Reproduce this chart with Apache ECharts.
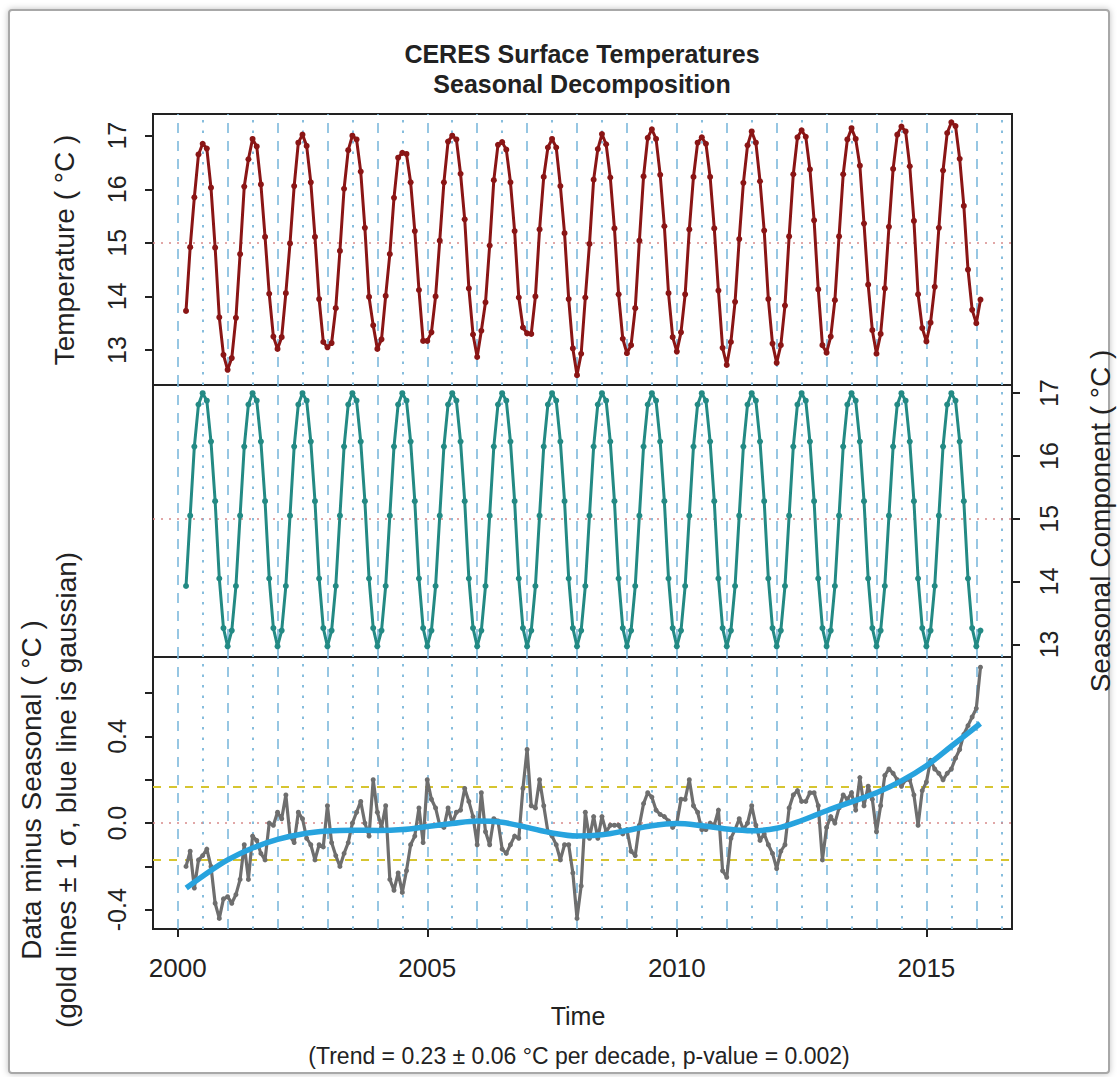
<!DOCTYPE html>
<html>
<head>
<meta charset="utf-8">
<script src="https://cdn.jsdelivr.net/npm/echarts@6/dist/echarts.min.js"></script>
<style>
html,body{margin:0;padding:0;background:#fff;}
#c{width:1120px;height:1077px;}
</style>
</head>
<body>
<div id="c"></div>
<script>
// ---- data (monthly, first value = March 2000) ----
var startYear = 2000;
var startMonth = 3;

// Temperature (°C), top panel
var temperature = [
 13.73,14.92,15.85,16.65,16.85,16.76,16.03,14.91,13.61,12.91,
 12.63,12.85,13.60,14.79,16.05,16.56,16.94,16.80,16.09,15.11,14.05,13.25,
 13.02,13.24,14.06,14.99,16.06,16.87,17.02,16.81,16.13,15.11,13.95,13.15,
 13.05,13.13,13.78,14.85,16.01,16.73,17.00,16.93,16.33,15.28,13.99,13.46,
 13.02,13.20,14.01,14.79,15.84,16.59,16.68,16.66,16.13,15.22,14.12,13.17,
 13.17,13.33,14.00,15.04,16.13,16.89,17.00,16.93,16.29,15.44,14.15,13.29,
 12.87,13.36,13.89,14.95,16.17,16.83,16.88,16.74,16.13,15.22,13.98,13.42,
 13.31,13.30,14.00,15.25,16.23,16.78,16.94,16.78,16.06,15.18,13.95,13.03,
 12.53,12.93,13.98,14.98,16.18,16.75,17.03,16.84,16.22,15.27,14.04,13.21,
 12.94,13.09,13.78,15.04,16.24,16.96,17.12,16.94,16.27,15.31,14.06,13.24,
 12.97,13.33,14.04,15.25,16.23,16.87,16.97,16.85,16.23,15.27,14.11,13.04,
 12.72,13.15,13.90,15.07,16.12,16.82,17.08,16.87,16.15,15.23,13.95,13.12,
 12.76,13.09,13.83,15.12,16.28,16.97,17.10,16.98,16.37,15.42,14.13,13.09,
 12.95,13.25,13.93,15.12,16.28,16.93,17.14,16.94,16.44,15.36,14.22,13.37,
 12.93,13.30,14.15,15.30,16.38,17.02,17.17,17.08,16.43,15.41,14.04,13.41,
 13.16,13.51,14.18,15.28,16.35,17.05,17.25,17.18,16.57,15.69,14.50,13.75,
 13.50,13.94
];

// Seasonal component cycle (°C), Jan..Dec
var seasonalCycle = [12.97,13.22,13.93,15.05,16.15,16.82,17.00,16.88,16.23,15.28,14.05,13.26];

// Data minus seasonal (°C), bottom panel
var anomaly = [
 -0.20,-0.13,-0.30,-0.17,-0.15,-0.12,-0.20,-0.37,-0.44,-0.35,
 -0.34,-0.37,-0.33,-0.26,-0.10,-0.26,-0.06,-0.08,-0.14,-0.17,0.00,-0.01,
 0.05,0.02,0.13,-0.06,-0.09,0.05,0.02,-0.07,-0.10,-0.17,-0.10,-0.11,
 0.08,-0.09,-0.15,-0.20,-0.14,-0.09,0.00,0.05,0.10,0.00,-0.06,0.20,
 0.05,-0.02,0.08,-0.26,-0.31,-0.23,-0.32,-0.22,-0.10,-0.06,0.07,-0.09,
 0.20,0.11,0.07,-0.01,-0.02,0.07,0.00,0.05,0.06,0.16,0.10,0.03,
 -0.10,0.14,-0.04,-0.10,0.02,0.01,-0.12,-0.14,-0.10,-0.06,-0.07,0.16,
 0.34,0.08,0.07,0.20,0.08,-0.04,-0.06,-0.10,-0.17,-0.10,-0.10,-0.23,
 -0.44,-0.29,0.05,-0.07,0.03,-0.07,0.03,-0.04,-0.01,-0.01,-0.01,-0.05,
 -0.03,-0.13,-0.15,-0.01,0.09,0.14,0.12,0.06,0.04,0.03,0.01,-0.02,
 0.00,0.11,0.11,0.20,0.08,0.05,-0.03,-0.03,0.00,-0.01,0.06,-0.22,
 -0.25,-0.07,-0.03,0.02,-0.03,0.00,0.08,-0.01,-0.08,-0.05,-0.10,-0.14,
 -0.21,-0.13,-0.10,0.07,0.13,0.15,0.10,0.10,0.14,0.14,0.08,-0.17,
 -0.02,0.03,0.00,0.07,0.13,0.11,0.14,0.06,0.21,0.08,0.17,0.11,
 -0.04,0.08,0.22,0.25,0.23,0.20,0.17,0.20,0.20,0.13,-0.01,0.15,
 0.19,0.29,0.25,0.23,0.20,0.23,0.25,0.30,0.34,0.41,0.45,0.49,
 0.53,0.72
];

// Gaussian smooth (blue line): time, value
var gaussTime = [2000.17,2000.5,2001,2001.5,2002,2002.5,2003,2003.5,2004,2004.5,2005,2005.5,2006,2006.5,2007,2007.5,2008,2008.5,2009,2009.5,2010,2010.5,2011,2011.5,2012,2012.5,2013,2013.5,2014,2014.5,2015,2015.5,2016.08];
var gaussValue = [-0.30,-0.245,-0.17,-0.115,-0.075,-0.05,-0.037,-0.033,-0.034,-0.03,-0.016,-0.002,0.01,0.004,-0.02,-0.046,-0.06,-0.054,-0.034,-0.012,-0.002,-0.012,-0.027,-0.035,-0.024,0.012,0.057,0.098,0.14,0.195,0.265,0.355,0.46];

// One-sigma (gold) lines
var sigmaLevels = [0.175, -0.175];

// Tick labels
var xTickLabels = [2000, 2005, 2010, 2015];
var tempTicks = [13, 14, 15, 16, 17];
var anomTicks = [-0.4, -0.2, 0, 0.2, 0.4, 0.6];
var anomTickLabels = [-0.4, 0, 0.4];

// Vertical reference lines
var yearLines = [2000,2001,2002,2003,2004,2005,2006,2007,2008,2009,2010,2011,2012,2013,2014,2015,2016];
var halfYearLines = [2000.5,2001.5,2002.5,2003.5,2004.5,2005.5,2006.5,2007.5,2008.5,2009.5,2010.5,2011.5,2012.5,2013.5,2014.5,2015.5,2016.5];

// ---- build ----
function timeOf(i){ return startYear + (startMonth - 1 + i) / 12; }
var tempData = temperature.map(function(v,i){ return [timeOf(i), v]; });
var seasData = temperature.map(function(v,i){ return [timeOf(i), seasonalCycle[(startMonth - 1 + i) % 12]]; });
var anomData = anomaly.map(function(v,i){ return [timeOf(i), v]; });
var gaussData = gaussTime.map(function(t,i){ return [t, gaussValue[i]]; });

var FONT = '"Liberation Sans", Arial, Helvetica, sans-serif';
var XMIN = 1999.505, XMAX = 2016.715;
var L = 153, W = 859;

function vLines(){
  var d = [];
  yearLines.forEach(function(y){ d.push({xAxis:y, lineStyle:{type:[10,8], color:'#7db9dc', width:1.6}}); });
  halfYearLines.forEach(function(y){ d.push({xAxis:y, lineStyle:{type:[2.5,8], color:'#86bddd', width:2}}); });
  return d;
}
function helper(idx, hLines){
  return {
    type:'line', xAxisIndex:idx, yAxisIndex:idx, data:[], z:1, silent:true,
    markLine:{ silent:true, symbol:['none','none'], label:{show:false}, animation:false,
      data: vLines().concat(hLines) }
  };
}

var hiddenX = function(idx){
  return { type:'value', gridIndex:idx, min:XMIN, max:XMAX, axisLine:{show:false}, axisTick:{show:false}, axisLabel:{show:false}, splitLine:{show:false} };
};

var option = {
  animation:false,
  backgroundColor:'#ffffff',
  textStyle:{fontFamily:FONT},
  grid:[
    {left:L, width:W, top:114, height:271, show:true, borderColor:'#222', borderWidth:2, backgroundColor:'#fff'},
    {left:L, width:W, top:385, height:272, show:true, borderColor:'#222', borderWidth:2, backgroundColor:'#fff'},
    {left:L, width:W, top:657, height:272, show:true, borderColor:'#222', borderWidth:2, backgroundColor:'#fff'}
  ],
  xAxis:[
    hiddenX(0), hiddenX(1),
    { type:'value', gridIndex:2, min:XMIN, max:XMAX,
      axisLine:{show:true, onZero:false, lineStyle:{color:'#222', width:2}},
      axisTick:{show:true, length:8, customValues:xTickLabels, lineStyle:{color:'#222', width:2}},
      axisLabel:{show:true, customValues:xTickLabels, margin:26, fontSize:26, color:'#222', fontFamily:FONT,
        formatter:function(v){ return String(Math.round(v)); }},
      splitLine:{show:false} }
  ],
  yAxis:[
    { type:'value', gridIndex:0, position:'left', min:12.347, max:17.405,
      axisLine:{show:true, lineStyle:{color:'#222', width:2}},
      axisTick:{show:true, length:8, customValues:tempTicks, lineStyle:{color:'#222', width:2}},
      axisLabel:{show:true, customValues:tempTicks, rotate:90, margin:24, fontSize:25, color:'#222', fontFamily:FONT},
      splitLine:{show:false} },
    { type:'value', gridIndex:1, position:'right', min:12.80, max:17.13,
      axisLine:{show:true, lineStyle:{color:'#222', width:2}},
      axisTick:{show:true, length:8, customValues:tempTicks, lineStyle:{color:'#222', width:2}},
      axisLabel:{show:true, customValues:tempTicks, rotate:90, margin:24, fontSize:25, color:'#222', fontFamily:FONT},
      splitLine:{show:false} },
    { type:'value', gridIndex:2, position:'left', min:-0.489, max:0.767,
      axisLine:{show:true, lineStyle:{color:'#222', width:2}},
      axisTick:{show:true, length:8, customValues:anomTicks, lineStyle:{color:'#222', width:2}},
      axisLabel:{show:true, customValues:anomTickLabels, rotate:90, margin:24, fontSize:25, color:'#222', fontFamily:FONT,
        formatter:function(v){ return Number(v).toFixed(1); }},
      splitLine:{show:false} }
  ],
  series:[
    helper(0, [{yAxis:15, lineStyle:{type:[2,6], color:'#d88a8a', width:1.6}}]),
    helper(1, [{yAxis:15, lineStyle:{type:[2,6], color:'#d88a8a', width:1.6}}]),
    helper(2, [{yAxis:0, lineStyle:{type:[2,6], color:'#d88a8a', width:1.6}}].concat(
      sigmaLevels.map(function(s){ return {yAxis:s, lineStyle:{type:[8,8], color:'#d6c530', width:2.2}}; }))),
    { type:'line', name:'Temperature', xAxisIndex:0, yAxisIndex:0, data:tempData, z:5,
      symbol:'circle', symbolSize:6, showSymbol:true,
      lineStyle:{color:'#8a1515', width:3}, itemStyle:{color:'#8a1515'} },
    { type:'line', name:'Seasonal', xAxisIndex:1, yAxisIndex:1, data:seasData, z:5,
      symbol:'circle', symbolSize:6, showSymbol:true,
      lineStyle:{color:'#238a84', width:3}, itemStyle:{color:'#238a84'} },
    { type:'line', name:'Anomaly', xAxisIndex:2, yAxisIndex:2, data:anomData, z:5,
      symbol:'circle', symbolSize:5, showSymbol:true,
      lineStyle:{color:'#6e6e6e', width:3.2}, itemStyle:{color:'#6e6e6e'} },
    { type:'line', name:'Gaussian', xAxisIndex:2, yAxisIndex:2, data:gaussData, z:6,
      smooth:0.35, symbol:'none', showSymbol:false,
      lineStyle:{color:'#27a3de', width:5.5} }
  ],
  graphic:[
    { type:'rect', left:8, top:9, shape:{width:1100, height:1063, r:3}, z:-10,
      style:{fill:'#fff', stroke:'#a8a8a8', lineWidth:2, shadowBlur:6, shadowColor:'rgba(0,0,0,0.25)'} },
    { type:'text', x:582, y:54, style:{text:'CERES Surface Temperatures', font:'bold 25px '+FONT, fill:'#222', textAlign:'center', textVerticalAlign:'middle'} },
    { type:'text', x:582, y:84, style:{text:'Seasonal Decomposition', font:'bold 25px '+FONT, fill:'#222', textAlign:'center', textVerticalAlign:'middle'} },
    { type:'text', x:64, y:250, rotation:Math.PI/2, style:{text:'Temperature ( °C )', font:'28px '+FONT, fill:'#222', textAlign:'center', textVerticalAlign:'middle'} },
    { type:'text', x:1100, y:521, rotation:Math.PI/2, style:{text:'Seasonal Component ( °C )', font:'28px '+FONT, fill:'#222', textAlign:'center', textVerticalAlign:'middle'} },
    { type:'text', x:31, y:790, rotation:Math.PI/2, style:{text:'Data minus Seasonal ( °C )', font:'28px '+FONT, fill:'#222', textAlign:'center', textVerticalAlign:'middle'} },
    { type:'text', x:66, y:790, rotation:Math.PI/2, style:{text:'(gold lines ± 1 σ, blue line is gaussian)', font:'28px '+FONT, fill:'#222', textAlign:'center', textVerticalAlign:'middle'} },
    { type:'text', x:578, y:1016, style:{text:'Time', font:'25px '+FONT, fill:'#222', textAlign:'center', textVerticalAlign:'middle'} },
    { type:'text', x:579, y:1056, style:{text:'(Trend = 0.23 ± 0.06 °C per decade, p-value = 0.002)', font:'23px '+FONT, fill:'#222', textAlign:'center', textVerticalAlign:'middle'} }
  ]
};

var chart = echarts.init(document.getElementById('c'), null, {renderer:'svg'});
chart.setOption(option);
</script>
</body>
</html>
